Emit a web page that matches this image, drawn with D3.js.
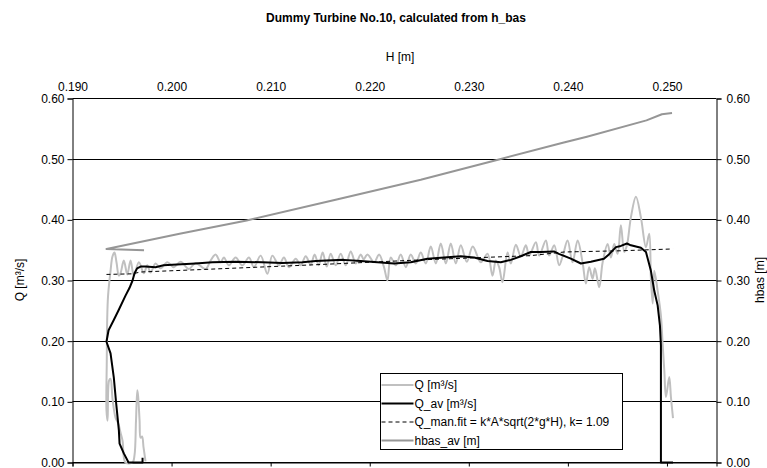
<!DOCTYPE html>
<html>
<head>
<meta charset="utf-8">
<script src="https://cdn.jsdelivr.net/npm/d3@7"></script>
<style>
  body { margin: 0; background: #fff; }
  svg { display: block; font-family: 'Liberation Sans', Arial, sans-serif; }
</style>
</head>
<body>
<svg width="767" height="468"></svg>
<script>
// Q [m3/s] measured, against H [m]
const qH = [0.19737, 0.19717, 0.19702, 0.19687, 0.19677, 0.19662, 0.19654, 0.19641, 0.19626, 0.19606,
  0.19535, 0.19505, 0.19485, 0.19465, 0.19434, 0.19404, 0.19384, 0.19369, 0.19354, 0.19343,
  0.19346, 0.19350, 0.19359, 0.19384, 0.19404, 0.19424, 0.19444, 0.19468, 0.19485, 0.19518,
  0.19553, 0.19586, 0.19619, 0.19670, 0.19720, 0.19755, 0.19788, 0.19838, 0.19889, 0.19957,
  0.20023, 0.20091, 0.20175, 0.20242, 0.20343, 0.20394, 0.20444, 0.20495, 0.20528, 0.20579,
  0.20646, 0.20714, 0.20781, 0.20831, 0.20899, 0.20967, 0.21017, 0.21084, 0.21134, 0.21185,
  0.21253, 0.21303, 0.21354, 0.21404, 0.21444, 0.21485, 0.21525, 0.21566, 0.21606, 0.21657,
  0.21707, 0.21758, 0.21808, 0.21859, 0.21909, 0.21939, 0.21977, 0.22044, 0.22094, 0.22144,
  0.22179, 0.22212, 0.22263, 0.22313, 0.22364, 0.22414, 0.22465, 0.22515, 0.22566, 0.22616,
  0.22667, 0.22717, 0.22768, 0.22818, 0.22869, 0.22919, 0.22980, 0.23040, 0.23121, 0.23189,
  0.23239, 0.23273, 0.23306, 0.23340, 0.23391, 0.23424, 0.23475, 0.23525, 0.23576, 0.23609,
  0.23677, 0.23710, 0.23778, 0.23811, 0.23862, 0.23912, 0.23949, 0.23997, 0.24047, 0.24098,
  0.24148, 0.24182, 0.24215, 0.24249, 0.24273, 0.24316, 0.24351, 0.24401, 0.24434, 0.24468,
  0.24502, 0.24535, 0.24569, 0.24596, 0.24636, 0.24687, 0.24737, 0.24788, 0.24821, 0.24838,
  0.24856, 0.24872, 0.24906, 0.24939, 0.24956, 0.24973, 0.24990, 0.25023, 0.25040, 0.25061];
const qValues = [0.002, 0.025, 0.043, 0.041, 0.069, 0.110, 0.119, 0.069, 0.012, 0.000,
  0.000, 0.036, 0.049, 0.063, 0.074, 0.105, 0.138, 0.135, 0.069, 0.086,
  0.168, 0.234, 0.275, 0.316, 0.340, 0.346, 0.330, 0.308, 0.312, 0.333,
  0.310, 0.333, 0.308, 0.330, 0.312, 0.325, 0.313, 0.328, 0.320, 0.330,
  0.322, 0.331, 0.319, 0.329, 0.319, 0.333, 0.343, 0.330, 0.338, 0.325,
  0.338, 0.325, 0.338, 0.322, 0.341, 0.311, 0.341, 0.325, 0.338, 0.322,
  0.336, 0.325, 0.340, 0.326, 0.343, 0.325, 0.346, 0.323, 0.344, 0.325,
  0.344, 0.325, 0.348, 0.328, 0.343, 0.335, 0.343, 0.330, 0.343, 0.322,
  0.300, 0.338, 0.325, 0.343, 0.322, 0.343, 0.328, 0.346, 0.328, 0.356,
  0.328, 0.361, 0.328, 0.361, 0.328, 0.358, 0.331, 0.356, 0.330, 0.344,
  0.308, 0.333, 0.322, 0.297, 0.346, 0.328, 0.359, 0.340, 0.358, 0.341,
  0.363, 0.341, 0.366, 0.341, 0.358, 0.325, 0.341, 0.366, 0.330, 0.366,
  0.330, 0.295, 0.322, 0.303, 0.320, 0.289, 0.330, 0.360, 0.338, 0.360,
  0.344, 0.391, 0.347, 0.358, 0.404, 0.438, 0.404, 0.355, 0.377, 0.303,
  0.262, 0.316, 0.283, 0.242, 0.196, 0.152, 0.108, 0.141, 0.108, 0.073];

// Q_av [m3/s]
const qavH = [0.19707, 0.19707, 0.19566, 0.19518, 0.19475, 0.19468, 0.19441, 0.19417, 0.19384, 0.19343,
  0.19364, 0.19414, 0.19465, 0.19535, 0.19576, 0.19606, 0.19626, 0.19652, 0.19687, 0.19737,
  0.19838, 0.19919, 0.20007, 0.20242, 0.20411, 0.20646, 0.20916, 0.21118, 0.21320, 0.21455,
  0.21737, 0.21909, 0.22078, 0.22245, 0.22414, 0.22583, 0.22751, 0.22919, 0.23054, 0.23189,
  0.23323, 0.23424, 0.23525, 0.23626, 0.23727, 0.23859, 0.23909, 0.24030, 0.24131, 0.24232,
  0.24364, 0.24414, 0.24485, 0.24535, 0.24596, 0.24636, 0.24737, 0.24788, 0.24838, 0.24872,
  0.24906, 0.24929, 0.24939, 0.24939, 0.25061];
const qavValues = [0.008, 0.000, 0.000, 0.015, 0.031, 0.053, 0.097, 0.140, 0.180, 0.199,
  0.218, 0.234, 0.251, 0.275, 0.288, 0.300, 0.312, 0.320, 0.323, 0.323,
  0.322, 0.325, 0.326, 0.328, 0.330, 0.331, 0.330, 0.329, 0.330, 0.332,
  0.334, 0.332, 0.330, 0.328, 0.330, 0.336, 0.338, 0.340, 0.338, 0.332,
  0.330, 0.334, 0.340, 0.347, 0.347, 0.348, 0.344, 0.336, 0.328, 0.331,
  0.336, 0.343, 0.355, 0.357, 0.361, 0.358, 0.354, 0.347, 0.316, 0.283,
  0.259, 0.226, 0.193, 0.000, 0.000];

// Q_man.fit
const fitH = [0.19343, 0.19603, 0.19687, 0.20293, 0.21455, 0.22515, 0.23626, 0.23963, 0.24535, 0.25058];
const fitValues = [0.310, 0.311, 0.314, 0.318, 0.326, 0.334, 0.341, 0.347, 0.349, 0.352];

// hbas_av [m]
const hbasH = [0.19722, 0.19343, 0.20081, 0.20758, 0.21677, 0.22515, 0.23313, 0.23949, 0.24192, 0.24793, 0.24949, 0.25051];
const hbasValues = [0.350, 0.352, 0.377, 0.399, 0.434, 0.466, 0.500, 0.527, 0.537, 0.564, 0.574, 0.576];

const hTicks = [0.19, 0.20, 0.21, 0.22, 0.23, 0.24, 0.25];
const yTicks = [0, 0.1, 0.2, 0.3, 0.4, 0.5, 0.6];
const legendLabels = ['Q [m³/s]', 'Q_av [m³/s]', 'Q_man.fit = k*A*sqrt(2*g*H), k= 1.09', 'hbas_av [m]'];

const svg = d3.select('svg');
const margin = { top: 98, bottom: 6, left: 72, right: 51 };
const width = +svg.attr('width');
const height = +svg.attr('height');
const innerWidth = width - margin.left - margin.right;
const innerHeight = height - margin.top - margin.bottom;

const xScale = d3.scaleLinear().domain([0.19, 0.255]).range([0, innerWidth]);
const yScale = d3.scaleLinear().domain([0, 0.6]).range([innerHeight, 0]);
const y2Scale = d3.scaleLinear().domain([0, 0.6]).range([innerHeight, 0]);

const g = svg.append('g')
  .attr('transform', `translate(${margin.left + 0.5}, ${margin.top + 0.5})`);

// gridlines
g.append('g').selectAll('line').data(yTicks).enter().append('line')
  .attr('x1', 0).attr('x2', innerWidth)
  .attr('y1', d => Math.round(yScale(d))).attr('y2', d => Math.round(yScale(d)))
  .attr('stroke', '#000').attr('stroke-width', 1);

const styleAxis = sel => {
  sel.attr('font-size', 12).attr('font-family', 'Liberation Sans, Arial');
  sel.selectAll('text').attr('fill', '#000');
  sel.selectAll('line').attr('stroke', '#000');
  sel.select('.domain').attr('stroke', '#000');
};

g.append('g')
  .call(d3.axisLeft(yScale).tickValues(yTicks).tickFormat(d3.format('.2f')).tickSizeOuter(0).tickSize(5).tickPadding(3))
  .call(styleAxis);

g.append('g')
  .attr('transform', `translate(${innerWidth}, 0)`)
  .call(d3.axisRight(y2Scale).tickValues(yTicks).tickFormat(d3.format('.2f')).tickSizeOuter(0).tickSize(5).tickPadding(5))
  .call(styleAxis);

g.append('g')
  .attr('transform', `translate(0, ${innerHeight})`)
  .call(d3.axisBottom(xScale).tickValues(hTicks).tickFormat('').tickSizeOuter(0).tickSize(4))
  .call(styleAxis);

const x2AxisG = g.append('g')
  .call(d3.axisTop(xScale).tickValues(hTicks).tickFormat(d3.format('.3f')).tickSize(0).tickPadding(8))
  .call(styleAxis);
x2AxisG.select('.domain').remove();

// series
const lineSmooth = d3.line()
  .x(d => xScale(d[0]))
  .y(d => yScale(d[1]))
  .curve(d3.curveCatmullRom.alpha(0.5));
const line = d3.line()
  .x(d => xScale(d[0]))
  .y(d => yScale(d[1]));
const line2 = d3.line()
  .x(d => xScale(d[0]))
  .y(d => y2Scale(d[1]));

const series = [
  { pts: d3.zip(qH, qValues), stroke: '#c0c0c0', width: 2, dash: null, gen: lineSmooth },
  { pts: d3.zip(qavH, qavValues), stroke: '#000', width: 2, dash: null, gen: line },
  { pts: d3.zip(fitH, fitValues), stroke: '#000', width: 1, dash: '4,3', gen: line },
  { pts: d3.zip(hbasH, hbasValues), stroke: '#969696', width: 2, dash: null, gen: line2 }
];

g.selectAll('path.series').data(series).enter().append('path')
  .attr('class', 'series')
  .attr('fill', 'none')
  .attr('stroke', d => d.stroke)
  .attr('stroke-width', d => d.width)
  .attr('stroke-dasharray', d => d.dash)
  .attr('stroke-linejoin', 'round')
  .attr('d', d => d.gen(d.pts));

// legend
const legend = svg.append('g').attr('transform', 'translate(380.5, 373.5)');
legend.append('rect')
  .attr('width', 242).attr('height', 76)
  .attr('fill', '#fff').attr('stroke', '#000');
const rows = legend.selectAll('g.row').data(series).enter().append('g')
  .attr('class', 'row')
  .attr('transform', (d, i) => `translate(0, ${11.5 + i * 18.5})`);
rows.append('line')
  .attr('x1', 1).attr('x2', 33)
  .attr('stroke', d => d.stroke)
  .attr('stroke-width', d => d.width)
  .attr('stroke-dasharray', d => d.dash);
rows.append('text')
  .attr('x', 34).attr('dy', '0.35em')
  .attr('font-size', 12)
  .text((d, i) => legendLabels[i]);

// titles
svg.append('text')
  .attr('x', 396).attr('y', 22)
  .attr('text-anchor', 'middle')
  .attr('font-size', 12).attr('font-weight', 'bold')
  .text('Dummy Turbine No.10, calculated from h_bas');

svg.append('text')
  .attr('x', 400).attr('y', 61)
  .attr('text-anchor', 'middle')
  .attr('font-size', 12)
  .text('H [m]');

svg.append('text')
  .attr('transform', 'translate(24, 280) rotate(-90)')
  .attr('text-anchor', 'middle')
  .attr('font-size', 12)
  .text('Q [m³/s]');

svg.append('text')
  .attr('transform', 'translate(764, 280) rotate(-90)')
  .attr('text-anchor', 'middle')
  .attr('font-size', 12)
  .text('hbas [m]');
</script>
</body>
</html>
